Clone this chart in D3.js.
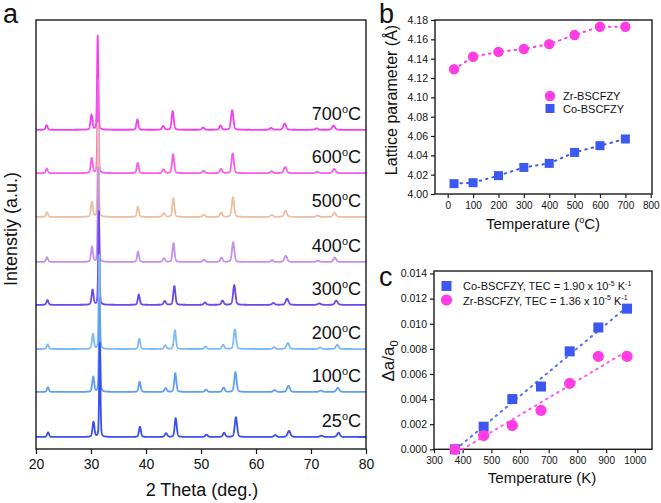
<!DOCTYPE html>
<html><head><meta charset="utf-8">
<script src="https://cdn.jsdelivr.net/npm/d3@7"></script>
<style>
body{margin:0;background:#fff}
svg{display:block}
text{font-family:"Liberation Sans",Arial,sans-serif;fill:#111}
</style>
</head><body>
<svg id="chart" width="661" height="503"></svg>
<script>
// ---------- Panel a: XRD ----------
const xrdTemps = ["25", "100", "200", "300", "400", "500", "600", "700"];
const xrdOffsets = [2.8, 13.3, 23.3, 33.6, 43.6, 54.1, 64.3, 74.4];
const xrdShift = [0, 0.05, 0.10, 0.17, 0.28, 0.30, 0.33, 0.38];   // deg shift at 31.5 deg
const peakPos25 = [22.2, 30.45, 31.6, 38.9, 43.65, 45.4, 51.0, 54.2, 56.35, 63.5, 66.0, 71.9, 75.0];
const peakHeight = [0.05, 0.16, 1.0, 0.11, 0.04, 0.2, 0.025, 0.045, 0.21, 0.02, 0.065, 0.015, 0.045];
const peakWidth = [0.42, 0.42, 0.26, 0.42, 0.5, 0.44, 0.5, 0.5, 0.5, 0.55, 0.6, 0.6, 0.6];
const mainPeakScale = 21.9;
const xrdTicks = [20, 30, 40, 50, 60, 70, 80];

// ---------- Panel b: lattice parameter ----------
const tempC = [25, 100, 200, 300, 400, 500, 600, 700];
const zrLattice = [4.129, 4.142, 4.147, 4.150, 4.155, 4.1645, 4.173, 4.173];
const coLattice = [4.0107, 4.0117, 4.019, 4.0275, 4.0317, 4.043, 4.050, 4.0569];
const bXTicks = [0, 100, 200, 300, 400, 500, 600, 700, 800];
const bYTicks = [4.00, 4.02, 4.04, 4.06, 4.08, 4.10, 4.12, 4.14, 4.16, 4.18];

// ---------- Panel c: expansion ----------
const tempK = [373, 473, 573, 673, 773, 873, 973];
const coExp = [0, 0.0018, 0.0040, 0.0050, 0.0078, 0.0097, 0.0112];
const zrExp = [0, 0.0011, 0.0019, 0.0031, 0.00525, 0.0074, 0.0074];
const cXTicks = [300, 400, 500, 600, 700, 800, 900, 1000];
const cYTicks = [0, 0.002, 0.004, 0.006, 0.008, 0.010, 0.012, 0.014];

const xrdColors = ["#3b4ff0", "#5e9ff6", "#7dbaf6", "#6c46ee", "#c391ea", "#ecbf9f", "#f65de9", "#f53ef0"];
const PINK = "#ff3de3", BLUE = "#3b58f0";

const svg = d3.select("#chart");
const frameCol = "#1a1a1a";

function frame(x0, y0, x1, y1) {
  svg.append("rect").attr("x", x0).attr("y", y0).attr("width", x1 - x0).attr("height", y1 - y0)
    .attr("fill", "none").attr("stroke", frameCol).attr("stroke-width", 1.4);
}
function axisBottom(scale, y, major, minor, fs, len, fmt, dy) {
  const g = svg.append("g").attr("transform", `translate(0,${y})`);
  g.call(d3.axisBottom(scale).tickValues(minor).tickSize(len * 0.55).tickFormat(""));
  g.call(d3.axisBottom(scale).tickValues(major).tickSize(len).tickFormat(fmt));
  g.selectAll(".domain").remove();
  g.selectAll("line").attr("stroke", frameCol).attr("stroke-width", 1.2);
  g.selectAll("text").attr("font-size", fs).attr("fill", "#111").attr("dy", dy)
    .style("font-family", '"Liberation Sans",Arial,sans-serif');
  return g;
}
function axisLeft(scale, x, major, minor, fs, len, fmt, dx) {
  const g = svg.append("g").attr("transform", `translate(${x},0)`);
  g.call(d3.axisLeft(scale).tickValues(minor).tickSize(len * 0.55).tickFormat(""));
  g.call(d3.axisLeft(scale).tickValues(major).tickSize(len).tickFormat(fmt).tickPadding(dx));
  g.selectAll(".domain").remove();
  g.selectAll("line").attr("stroke", frameCol).attr("stroke-width", 1.2);
  g.selectAll("text").attr("font-size", fs).attr("fill", "#111")
    .style("font-family", '"Liberation Sans",Arial,sans-serif');
  return g;
}

// ===== Panel a =====
const ax = d3.scaleLinear().domain([20, 80]).range([36, 366]);
const ay = d3.scaleLinear().domain([0, 100]).range([449, 20]);
svg.append("clipPath").attr("id", "clipA").append("rect")
  .attr("x", 36).attr("y", 20).attr("width", 330).attr("height", 429);

function pv(x, c, w) {
  const u = (x - c) / (w / 2);
  return 0.3 / (1 + u * u) + 0.7 * Math.exp(-Math.LN2 * u * u);
}
const grid = d3.range(20, 80.001, 0.02);
const gA = svg.append("g").attr("clip-path", "url(#clipA)");
for (let i = xrdTemps.length - 1; i >= 0; i--) {
  const pos = peakPos25.map(p => p * (1 - xrdShift[i] / 31.5));
  const pts = grid.map(x => {
    let v = 0;
    pos.forEach((c, k) => { v += peakHeight[k] * pv(x, c, peakWidth[k]); });
    return [x, xrdOffsets[i] + mainPeakScale * v];
  });
  gA.append("path").datum(pts)
    .attr("d", d3.line().x(d => ax(d[0])).y(d => ay(d[1])))
    .attr("fill", "none").attr("stroke", xrdColors[i]).attr("stroke-width", 1.8)
    .attr("stroke-linejoin", "round");
}
xrdTemps.forEach((t, i) => {
  const tx = svg.append("text").attr("x", 361).attr("y", ay(xrdOffsets[i]) - 10)
    .attr("text-anchor", "end").attr("font-size", 18);
  tx.append("tspan").text(t);
  tx.append("tspan").text("o").attr("font-size", 11).attr("dy", -7);
  tx.append("tspan").text("C").attr("dy", 7);
});
frame(36, 20, 366, 449);
axisBottom(ax, 449, xrdTicks, d3.range(25, 80, 10), 14, 5, d3.format("d"), "0.85em");
svg.append("text").attr("x", 202).attr("y", 496).attr("text-anchor", "middle")
  .attr("font-size", 18).text("2 Theta (deg.)");
svg.append("text").attr("transform", "translate(17,229) rotate(-90)").attr("text-anchor", "middle")
  .attr("font-size", 18).text("Intenstiy (a.u.)");
svg.append("text").attr("x", 3).attr("y", 23).attr("font-size", 27).text("a");

// ===== Panel b =====
const bx = d3.scaleLinear().domain([-50, 805]).range([435, 652]);
const by = d3.scaleLinear().domain([4.00, 4.18]).range([194, 20]);
frame(435, 20, 652, 194);
axisBottom(bx, 194, bXTicks, d3.range(50, 800, 100), 10, 4, d3.format("d"), "0.75em");
axisLeft(by, 435, bYTicks, d3.range(4.01, 4.18, 0.02), 10.5, 4, d3.format(".2f"), 3);
const lineB = d3.line().x((d, i) => bx(tempC[i])).y(d => by(d));
svg.append("path").datum(zrLattice).attr("d", lineB).attr("fill", "none")
  .attr("stroke", PINK).attr("stroke-width", 2).attr("stroke-dasharray", "1.5,5").attr("stroke-linecap", "round");
svg.append("path").datum(coLattice).attr("d", lineB).attr("fill", "none")
  .attr("stroke", BLUE).attr("stroke-width", 2).attr("stroke-dasharray", "1.5,5").attr("stroke-linecap", "round");
svg.append("g").selectAll("circle").data(zrLattice).join("circle")
  .attr("cx", (d, i) => bx(tempC[i])).attr("cy", d => by(d)).attr("r", 5.2).attr("fill", PINK);
svg.append("g").selectAll("rect").data(coLattice).join("rect")
  .attr("x", (d, i) => bx(tempC[i]) - 4.5).attr("y", d => by(d) - 4.5)
  .attr("width", 9).attr("height", 9).attr("fill", BLUE);
// legend b
svg.append("circle").attr("cx", 550).attr("cy", 96).attr("r", 5.2).attr("fill", PINK);
svg.append("rect").attr("x", 545.5).attr("y", 104).attr("width", 9).attr("height", 9).attr("fill", BLUE);
svg.append("text").attr("x", 563).attr("y", 100).attr("font-size", 11).text("Zr-BSCFZY");
svg.append("text").attr("x", 563).attr("y", 112.5).attr("font-size", 11).text("Co-BSCFZY");
const tb = svg.append("text").attr("x", 543).attr("y", 229).attr("text-anchor", "middle").attr("font-size", 15);
tb.append("tspan").text("Temperature (");
tb.append("tspan").text("o").attr("font-size", 9).attr("dy", -6);
tb.append("tspan").text("C)").attr("dy", 6);
svg.append("text").attr("transform", "translate(397,100) rotate(-90)").attr("text-anchor", "middle")
  .attr("font-size", 16).text("Lattice parameter (Å)");
svg.append("text").attr("x", 379).attr("y", 23).attr("font-size", 27).text("b");

// ===== Panel c =====
const cx = d3.scaleLinear().domain([300, 1060]).range([434, 652]);
const cy = d3.scaleLinear().domain([0, 0.0142]).range([449.3, 271]);
frame(434, 271, 652, 449.3);
axisBottom(cx, 449.3, cXTicks, d3.range(350, 1060, 100), 10, 4, d3.format("d"), "0.75em");
axisLeft(cy, 434, cYTicks, d3.range(0.001, 0.0142, 0.002), 10.5, 4, d3.format(".3f"), 3);

function fit(xs, ys) {
  const mx = d3.mean(xs), my = d3.mean(ys);
  const sxy = d3.sum(xs, (x, i) => (x - mx) * (ys[i] - my));
  const sxx = d3.sum(xs, x => (x - mx) * (x - mx));
  const m = sxy / sxx;
  return { m, b: my - m * mx };
}
[[coExp, BLUE], [zrExp, PINK]].forEach(([ys, col]) => {
  const f = fit(tempK, ys);
  const x0 = -f.b / f.m, x1 = 982;
  svg.append("path").datum([x0, x1])
    .attr("d", d3.line().x(d => cx(d)).y(d => cy(f.m * d + f.b)))
    .attr("fill", "none").attr("stroke", col).attr("stroke-width", 2)
    .attr("stroke-dasharray", "1.5,5").attr("stroke-linecap", "round").attr("opacity", 0.85);
});
svg.append("g").selectAll("rect").data(coExp).join("rect")
  .attr("x", (d, i) => cx(tempK[i]) - 5).attr("y", d => cy(d) - 5)
  .attr("width", 10).attr("height", 10).attr("fill", BLUE);
svg.append("g").selectAll("circle").data(zrExp).join("circle")
  .attr("cx", (d, i) => cx(tempK[i])).attr("cy", d => cy(d)).attr("r", 5.6).attr("fill", PINK);
// legend c
svg.append("rect").attr("x", 441.5).attr("y", 281).attr("width", 10).attr("height", 10).attr("fill", BLUE);
svg.append("circle").attr("cx", 446.5).attr("cy", 300).attr("r", 5.6).attr("fill", PINK);
function tecLabel(y, name, val) {
  const t = svg.append("text").attr("x", 463).attr("y", y).attr("font-size", 11);
  t.append("tspan").text(`${name}, TEC = ${val} x 10`);
  t.append("tspan").text("-5").attr("font-size", 7).attr("dy", -4.5);
  t.append("tspan").text(" K").attr("dy", 4.5);
  t.append("tspan").text("-1").attr("font-size", 7).attr("dy", -4.5);
}
tecLabel(290, "Co-BSCFZY", "1.90");
tecLabel(304.5, "Zr-BSCFZY", "1.36");
svg.append("text").attr("x", 542).attr("y", 483).attr("text-anchor", "middle")
  .attr("font-size", 15).text("Temperature (K)");
const yc = svg.append("text").attr("transform", "translate(394,361) rotate(-90)")
  .attr("text-anchor", "middle").attr("font-size", 17);
yc.append("tspan").text("Δa/a");
yc.append("tspan").text("0").attr("font-size", 11).attr("dy", 4);
svg.append("text").attr("x", 379).attr("y", 286).attr("font-size", 27).text("c");
</script>
</body></html>
